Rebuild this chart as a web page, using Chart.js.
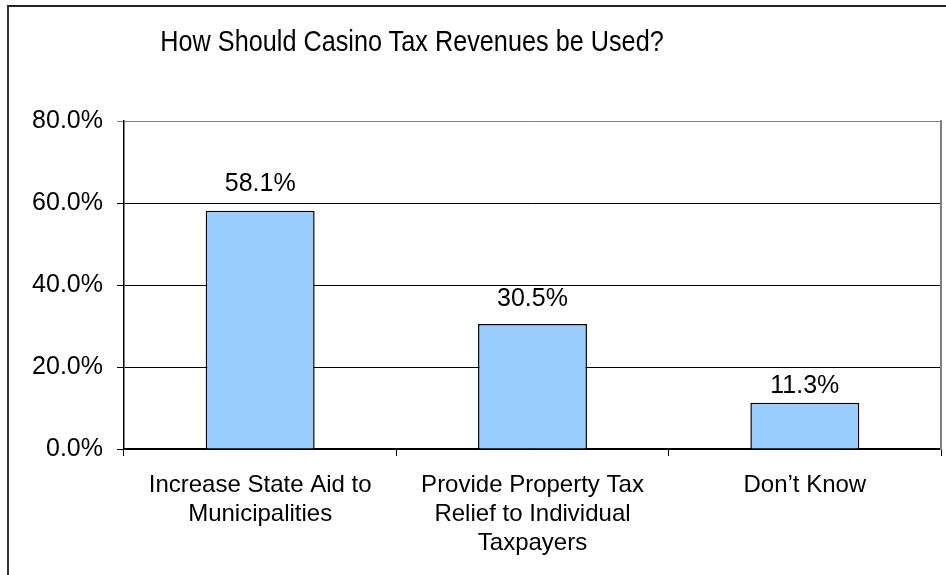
<!DOCTYPE html>
<html>
<head>
<meta charset="utf-8">
<script src="https://cdn.jsdelivr.net/npm/chart.js@4"></script>
<style>
  html, body { margin: 0; padding: 0; background: #fff; }
  #frame { position: absolute; left: 7px; top: 5px; width: 960px; height: 600px;
           border-left: 2px solid #333; border-top: 2px solid #222; }
  #wrap { position: absolute; left: 0; top: 0; width: 946px; height: 575px; }
  #title { position: absolute; left: 412px; top: 26px; transform: translateX(-50%) scale(1.01, 1.15);
           white-space: nowrap; font: 25px/30px "Liberation Sans", Arial, sans-serif; color: #000; }
</style>
</head>
<body>
<div id="frame"></div>
<div id="wrap"><canvas id="casino" width="946" height="575"></canvas></div>
<div id="title">How Should Casino Tax Revenues be Used?</div>
<script>
const categories = [
    ["Increase State Aid to", "Municipalities"],
    ["Provide Property Tax", "Relief to Individual", "Taxpayers"],
    ["Don\u2019t Know"]
];
const shares = [58.1, 30.5, 11.3];
const yTicks = [0, 20, 40, 60, 80];

Chart.defaults.font.family = '"Liberation Sans", Arial, sans-serif';
Chart.defaults.color = '#000000';

// values drawn over each bar, like the excel data labels
// (excel did not keep the same gap over every bar)
const labelGap = [27, 25, 17];
const barLabels = {
    id: 'barLabels',
    afterDatasetsDraw(chart) {
	const ctx = chart.ctx;
	const meta = chart.getDatasetMeta(0);
	ctx.save();
	ctx.font = '25px "Liberation Sans", Arial, sans-serif';
	ctx.fillStyle = '#000';
	ctx.textAlign = 'center';
	ctx.textBaseline = 'middle';
	meta.data.forEach((bar, i) => {
	    ctx.fillText(shares[i].toFixed(1) + '%', bar.x, bar.y - labelGap[i]);
	});
	ctx.restore();
    }
};

new Chart(document.getElementById('casino'), {
    type: 'bar',
    data: {
	labels: categories,
	datasets: [{
	    data: shares,
	    backgroundColor: '#99CCFF',
	    borderColor: '#000000',
	    borderWidth: 1.5,
	    barPercentage: 0.4,
	    categoryPercentage: 1.0
	}]
    },
    options: {
	responsive: false,
	animation: false,
	events: [],
	layout: { padding: { left: 0, right: 5, top: 121, bottom: 0 } },
	plugins: {
	    legend: { display: false },
	    tooltip: { enabled: false },
	    title: { display: false }
	},
	scales: {
	    x: {
		offset: true,
		grid: {
		    offset: true,
		    drawOnChartArea: false,
		    drawTicks: true,
		    tickLength: 7,
		    color: '#000'
		},
		border: { color: '#000', width: 1.5 },
		ticks: {
		    font: { size: 24 },
		    padding: 15,
		    maxRotation: 0,
		    autoSkip: false
		},
		afterFit(s) { s.height = 126; }
	    },
	    y: {
		min: 0,
		max: 80,
		afterBuildTicks(s) { s.ticks = yTicks.map(v => ({ value: v })); },
		grid: {
		    color: ctx => ctx.tick && ctx.tick.value === 80 ? '#808080' : '#000',
		    lineWidth: 1,
		    tickLength: 7
		},
		border: { color: '#000', width: 1.5 },
		ticks: {
		    font: { size: 25 },
		    padding: 14,
		    callback: v => v.toFixed(1) + '%'
		},
		afterFit(s) { s.width = 124; }
	    },
	    yRight: {
		position: 'right',
		min: 0,
		max: 80,
		grid: { display: false, drawTicks: false },
		ticks: { display: false },
		border: { color: '#808080', width: 2 },
		afterFit(s) { s.width = 0; }
	    }
	}
    },
    plugins: [barLabels]
});
</script>
</body>
</html>
